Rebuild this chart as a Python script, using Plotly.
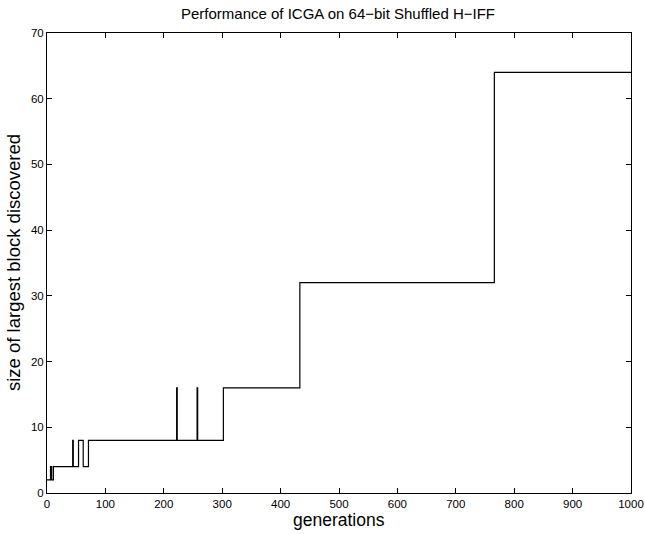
import plotly.graph_objects as go

# change points of the step curve (generation, block size)
generations = [0, 6, 8, 11, 44, 45, 54, 62, 71, 222, 223, 257, 258, 302, 433, 766, 1000]
block_size = [2, 4, 2, 4, 8, 4, 8, 4, 8, 16, 8, 16, 8, 16, 32, 64, 64]

x_ticks = list(range(0, 1001, 100))
y_ticks = list(range(0, 71, 10))

W, H = 645, 534
L, R, T, B = 47, 14, 33, 41
PW, PH = W - L - R, H - T - B

fig = go.Figure()
fig.add_trace(go.Scatter(x=generations, y=block_size, mode="lines",
                         line=dict(color="black", width=1.2, shape="hv"),
                         showlegend=False))

axis_common = dict(showline=True, linecolor="black", linewidth=1, mirror="ticks",
                   ticks="inside", ticklen=5, tickcolor="black", showgrid=False,
                   zeroline=False, automargin=False,
                   tickfont=dict(size=11.5, color="black"))

fig.update_layout(
    width=W, height=H,
    margin=dict(l=L, r=R, t=T, b=B, autoexpand=False),
    paper_bgcolor="white", plot_bgcolor="white",
    font=dict(family="Liberation Sans, Arial, sans-serif", color="black"),
    title=dict(text="Performance of ICGA on 64\u2212bit Shuffled H\u2212IFF",
               x=(338 - L) / PW, xanchor="center", xref="paper",
               y=1 - 14 / H, yanchor="middle", yref="container",
               font=dict(size=15)),
    xaxis=dict(range=[0, 1000], tickvals=x_ticks, **axis_common),
    yaxis=dict(range=[0, 70], tickvals=y_ticks, **axis_common),
    annotations=[
        dict(text="generations", xref="paper", yref="paper",
             x=0.5, y=-(520 - (T + PH)) / PH, xanchor="center", yanchor="middle",
             showarrow=False, font=dict(size=17.5)),
        dict(text="size of largest block discovered", xref="paper", yref="paper",
             x=-(L - 13) / PW, y=0.5, xanchor="center", yanchor="middle",
             textangle=-90, showarrow=False, font=dict(size=18.5)),
    ],
)

fig.write_html("out.html", config={"displayModeBar": False},
               post_script="document.body.style.margin='0';document.body.style.overflow='hidden';")
